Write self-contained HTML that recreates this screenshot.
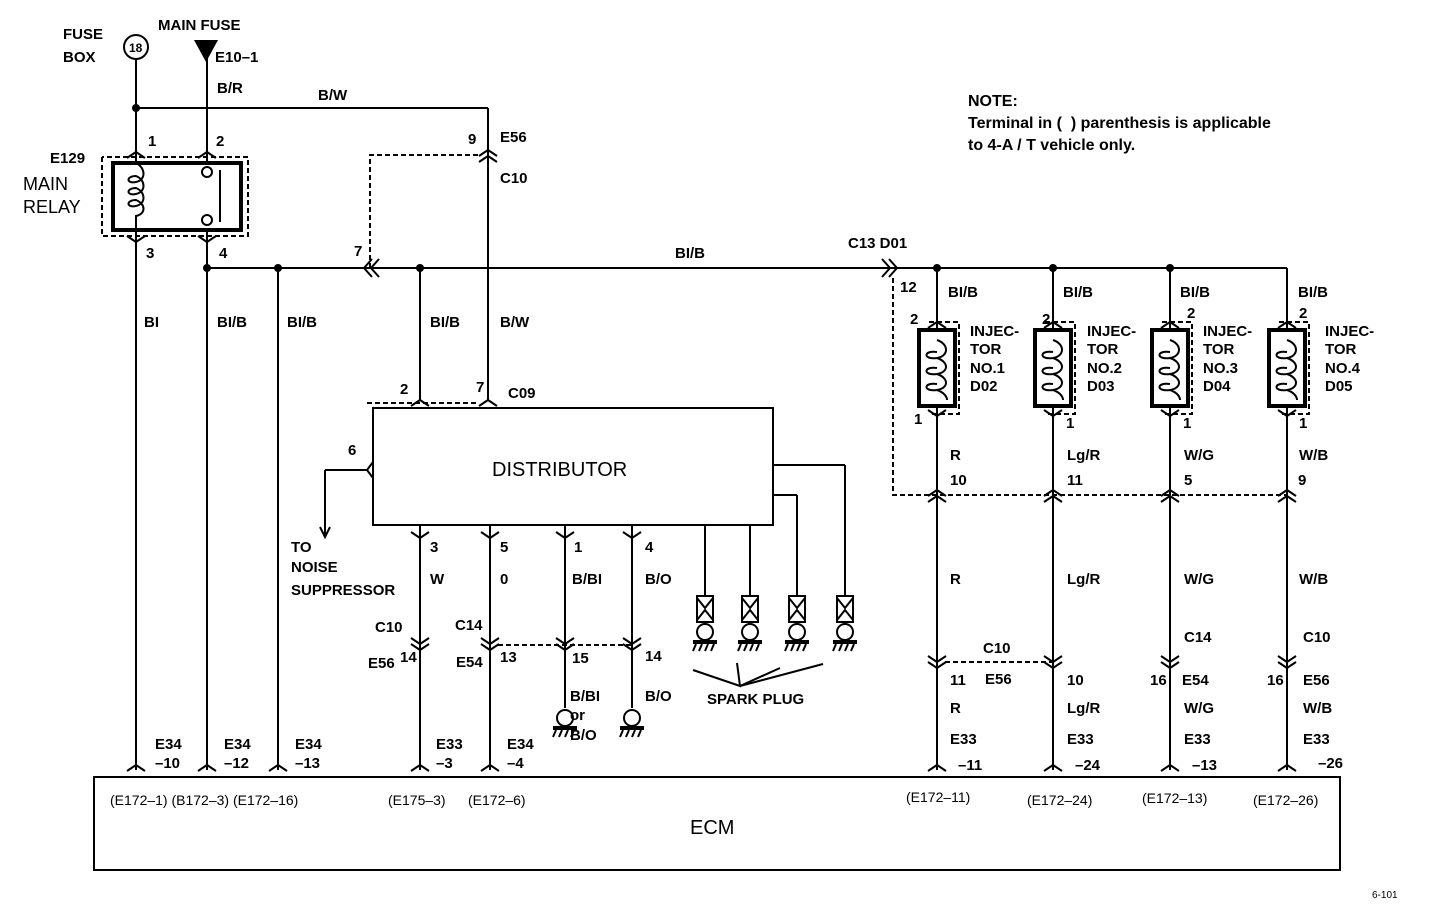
<!DOCTYPE html>
<html><head><meta charset="utf-8"><style>
html,body{margin:0;padding:0;background:#fff}
svg{display:block}
text{font-family:"Liberation Sans",sans-serif;fill:#000}
</style></head><body>
<svg width="1440" height="904" viewBox="0 0 1440 904" xmlns="http://www.w3.org/2000/svg" font-size="14" font-family="Liberation Sans, sans-serif">
<defs>
<g id="up"><polyline points="-9,6 0,0 9,6" fill="none" stroke="#000" stroke-width="2"/></g>
<g id="dn"><polyline points="-9,-6 0,0 9,-6" fill="none" stroke="#000" stroke-width="2"/></g>
<g id="dup"><polyline points="-9,6 0,0 9,6" fill="none" stroke="#000" stroke-width="2"/><polyline points="-9,12 0,6 9,12" fill="none" stroke="#000" stroke-width="2"/></g>
<g id="ddn"><polyline points="-9,-6 0,0 9,-6" fill="none" stroke="#000" stroke-width="2"/><polyline points="-9,-12 0,-6 9,-12" fill="none" stroke="#000" stroke-width="2"/></g>
<g id="gnd"><circle cx="0" cy="-10" r="8" fill="none" stroke="#000" stroke-width="2"/><line x1="-12" y1="0" x2="12" y2="0" stroke="#000" stroke-width="4"/><path d="M-9 2l-3 7M-3 2l-3 7M3 2l-3 7M9 2l-3 7" stroke="#000" stroke-width="2"/></g>
<g id="plug"><rect x="-8" y="0" width="16" height="26" fill="none" stroke="#000" stroke-width="2"/><polyline points="-8,2 0,12 8,2" fill="none" stroke="#000" stroke-width="2"/><polyline points="-8,24 0,14 8,24" fill="none" stroke="#000" stroke-width="2"/><use href="#gnd" y="46"/></g>
<g id="inj"><rect x="-18" y="0" width="36" height="76" fill="#fff" stroke="#000" stroke-width="4"/><path d="M0 10 C 12 14 12 26 0 28 C-14 30 -14 20 0 22 M0 28 C 12 32 12 42 0 44 C-14 46 -14 36 0 38 M0 44 C 12 48 12 58 0 60 C-14 62 -14 52 0 54 M0 60 C 6 62 10 66 10 70" fill="none" stroke="#000" stroke-width="2"/><polyline points="-8,-8 22,-8 22,84 -8,84" fill="none" stroke="#000" stroke-width="2" stroke-dasharray="5,3"/></g>
</defs>
<g stroke="#000" stroke-width="2" fill="none">
<circle cx="136" cy="47" r="12"/>
<line x1="136" y1="59" x2="136" y2="770"/>
<line x1="207" y1="55" x2="207" y2="770"/>
<line x1="136" y1="108" x2="488" y2="108"/>
<line x1="488" y1="108" x2="488" y2="400"/>
<rect x="113" y="163" width="128" height="67" stroke-width="4" fill="#fff"/>
<polyline points="102,157 102,236 248,236 248,157 102,157" stroke-dasharray="5,3"/>
<path d="M136 163 C 146 168 146 180 136 182 C 126 184 126 176 136 176 C 146 180 146 192 136 194 C 126 196 126 188 136 188 C 146 192 146 204 136 206 C 126 208 126 200 136 200 C 146 204 146 214 136 216 L136 230"/>
<circle cx="207" cy="172" r="5" fill="#fff"/><circle cx="207" cy="220" r="5" fill="#fff"/>
<line x1="220" y1="170" x2="220" y2="222"/>
<line x1="207" y1="268" x2="1287" y2="268"/>
<line x1="1287" y1="268" x2="1287" y2="770"/>
<line x1="278" y1="268" x2="278" y2="770"/>
<line x1="420" y1="268" x2="420" y2="400"/>
<polyline points="370,268 370,155 478,155" stroke-dasharray="5,3"/>
<rect x="373" y="408" width="400" height="117" stroke-width="2"/>
<polyline points="367,403 478,403 M500,403 520,403 M367,403 367,530 640,530" stroke-dasharray="5,3"/>
<line x1="367" y1="470" x2="325" y2="470"/><line x1="325" y1="470" x2="325" y2="535"/>
<polyline points="320,527 325,537 330,527"/>
<line x1="420" y1="525" x2="420" y2="770"/>
<line x1="490" y1="525" x2="490" y2="770"/>
<line x1="565" y1="525" x2="565" y2="708"/>
<line x1="632" y1="525" x2="632" y2="708"/>
<polyline points="498,645 632,645" stroke-dasharray="5,3"/>
<line x1="773" y1="465" x2="845" y2="465"/><line x1="845" y1="465" x2="845" y2="596"/>
<line x1="773" y1="495" x2="797" y2="495"/><line x1="797" y1="495" x2="797" y2="596"/>
<line x1="750" y1="525" x2="750" y2="596"/>
<line x1="705" y1="525" x2="705" y2="596"/>
<path d="M693 670 L740 686 L737 663 M740 686 L780 668 M740 686 L823 664"/>
<line x1="937" y1="268" x2="937" y2="770"/>
<line x1="1053" y1="268" x2="1053" y2="770"/>
<line x1="1170" y1="268" x2="1170" y2="770"/>
<polyline points="893,278 893,495 1287,495" stroke-dasharray="5,3"/>
<polyline points="945,662 1053,662" stroke-dasharray="5,3"/>
<rect x="94" y="777" width="1246" height="93"/>
</g>
<polygon points="194,40 218,40 206,62" fill="#000"/>
<g fill="#000"><circle cx="136" cy="108" r="4"/><circle cx="207" cy="268" r="4"/><circle cx="278" cy="268" r="4"/><circle cx="420" cy="268" r="4"/><circle cx="937" cy="268" r="4"/><circle cx="1053" cy="268" r="4"/><circle cx="1170" cy="268" r="4"/></g>
<use href="#up" x="136" y="152"/><use href="#up" x="207" y="152"/>
<use href="#dn" x="136" y="242"/><use href="#dn" x="207" y="242"/>
<use href="#dup" x="488" y="150"/>
<g stroke="#000" stroke-width="2" fill="none"><polyline points="372,259 364,268 372,277"/><polyline points="379,259 371,268 379,277"/>
<polyline points="882,259 890,268 882,277"/><polyline points="889,259 897,268 889,277"/>
<polyline points="373,462 367,470 373,478"/></g>
<use href="#up" x="420" y="400"/><use href="#up" x="488" y="400"/>
<use href="#dn" x="420" y="538"/><use href="#dn" x="490" y="538"/><use href="#dn" x="565" y="538"/><use href="#dn" x="632" y="538"/>
<use href="#ddn" x="420" y="650"/><use href="#ddn" x="490" y="650"/><use href="#ddn" x="565" y="650"/><use href="#ddn" x="632" y="650"/>
<use href="#gnd" x="565" y="728"/><use href="#gnd" x="632" y="728"/>
<use href="#plug" x="705" y="596"/><use href="#plug" x="750" y="596"/><use href="#plug" x="797" y="596"/><use href="#plug" x="845" y="596"/>
<use href="#inj" x="937" y="330"/><use href="#inj" x="1053" y="330"/><use href="#inj" x="1170" y="330"/><use href="#inj" x="1287" y="330"/>
<use href="#up" x="937" y="322"/><use href="#up" x="1053" y="322"/><use href="#up" x="1170" y="322"/><use href="#up" x="1287" y="322"/>
<use href="#dn" x="937" y="416"/><use href="#dn" x="1053" y="416"/><use href="#dn" x="1170" y="416"/><use href="#dn" x="1287" y="416"/>
<use href="#dup" x="937" y="490"/><use href="#dup" x="1053" y="490"/><use href="#dup" x="1170" y="490"/><use href="#dup" x="1287" y="490"/>
<use href="#ddn" x="937" y="668"/><use href="#ddn" x="1053" y="668"/><use href="#ddn" x="1170" y="668"/><use href="#ddn" x="1287" y="668"/>
<use href="#up" x="136" y="765"/><use href="#up" x="207" y="765"/><use href="#up" x="278" y="765"/><use href="#up" x="420" y="765"/><use href="#up" x="490" y="765"/><use href="#up" x="937" y="765"/><use href="#up" x="1053" y="765"/><use href="#up" x="1170" y="765"/><use href="#up" x="1287" y="765"/>
<g style="font-size:15px;font-weight:bold">
<text x="63" y="39">FUSE</text><text x="63" y="62">BOX</text>
<text x="129" y="52" style="font-size:12px">18</text>
<text x="158" y="30">MAIN FUSE</text><text x="215" y="62">E10–1</text>
<text x="217" y="93">B/R</text><text x="318" y="100">B/W</text>
<text x="148" y="146">1</text><text x="216" y="146">2</text>
<text x="50" y="163">E129</text><text x="23" y="190" style="font-size:18px;font-weight:normal">MAIN</text><text x="23" y="213" style="font-size:18px;font-weight:normal">RELAY</text>
<text x="146" y="258">3</text><text x="219" y="258">4</text>
<text x="468" y="144">9</text><text x="500" y="142">E56</text><text x="500" y="183">C10</text>
<text x="354" y="256">7</text>
<text x="144" y="327">BI</text><text x="217" y="327">BI/B</text><text x="287" y="327">BI/B</text><text x="430" y="327">BI/B</text><text x="500" y="327">B/W</text>
<text x="400" y="394">2</text><text x="476" y="392">7</text><text x="508" y="398">C09</text>
<text x="348" y="455">6</text>
<text x="492" y="476" style="font-size:20px;font-weight:normal">DISTRIBUTOR</text>
<text x="291" y="552">TO</text><text x="291" y="572">NOISE</text><text x="291" y="595">SUPPRESSOR</text>
<text x="430" y="552">3</text><text x="500" y="552">5</text><text x="574" y="552">1</text><text x="645" y="552">4</text>
<text x="430" y="584">W</text><text x="500" y="584">0</text><text x="572" y="584">B/BI</text><text x="645" y="584">B/O</text>
<text x="375" y="632">C10</text><text x="455" y="630">C14</text>
<text x="368" y="668">E56</text><text x="400" y="662">14</text><text x="456" y="667">E54</text><text x="500" y="662">13</text><text x="572" y="663">15</text><text x="645" y="661">14</text>
<text x="570" y="701">B/BI</text><text x="570" y="720">or</text><text x="570" y="740">B/O</text><text x="645" y="701">B/O</text>
<text x="707" y="704">SPARK PLUG</text>
<text x="675" y="258">BI/B</text><text x="848" y="248">C13 D01</text>
<text x="968" y="106" style="font-size:16px">NOTE:</text>
<text x="968" y="128" style="font-size:16px">Terminal in (&#160;&#160;) parenthesis is applicable</text>
<text x="968" y="150" style="font-size:16px">to 4-A / T vehicle only.</text>
<text x="900" y="292">12</text>
<text x="948" y="297">BI/B</text><text x="1063" y="297">BI/B</text><text x="1180" y="297">BI/B</text><text x="1298" y="297">BI/B</text>
<text x="910" y="324">2</text><text x="1042" y="324">2</text><text x="1187" y="318">2</text><text x="1299" y="318">2</text>
<text x="970" y="336">INJEC-</text><text x="970" y="354">TOR</text><text x="970" y="373">NO.1</text><text x="970" y="391">D02</text>
<text x="1087" y="336">INJEC-</text><text x="1087" y="354">TOR</text><text x="1087" y="373">NO.2</text><text x="1087" y="391">D03</text>
<text x="1203" y="336">INJEC-</text><text x="1203" y="354">TOR</text><text x="1203" y="373">NO.3</text><text x="1203" y="391">D04</text>
<text x="1325" y="336">INJEC-</text><text x="1325" y="354">TOR</text><text x="1325" y="373">NO.4</text><text x="1325" y="391">D05</text>
<text x="914" y="424">1</text><text x="1066" y="428">1</text><text x="1183" y="428">1</text><text x="1299" y="428">1</text>
<text x="950" y="460">R</text><text x="1067" y="460">Lg/R</text><text x="1184" y="460">W/G</text><text x="1299" y="460">W/B</text>
<text x="950" y="485">10</text><text x="1067" y="485">11</text><text x="1184" y="485">5</text><text x="1298" y="485">9</text>
<text x="950" y="584">R</text><text x="1067" y="584">Lg/R</text><text x="1184" y="584">W/G</text><text x="1299" y="584">W/B</text>
<text x="983" y="653">C10</text><text x="1184" y="642">C14</text><text x="1303" y="642">C10</text>
<text x="950" y="685">11</text><text x="985" y="684">E56</text><text x="1067" y="685">10</text><text x="1150" y="685">16</text><text x="1182" y="685">E54</text><text x="1267" y="685">16</text><text x="1303" y="685">E56</text>
<text x="950" y="713">R</text><text x="1067" y="713">Lg/R</text><text x="1184" y="713">W/G</text><text x="1303" y="713">W/B</text>
<text x="155" y="749">E34</text><text x="155" y="768">–10</text><text x="224" y="749">E34</text><text x="224" y="768">–12</text><text x="295" y="749">E34</text><text x="295" y="768">–13</text>
<text x="436" y="749">E33</text><text x="436" y="768">–3</text><text x="507" y="749">E34</text><text x="507" y="768">–4</text>
<text x="950" y="744">E33</text><text x="958" y="770">–11</text><text x="1067" y="744">E33</text><text x="1075" y="770">–24</text><text x="1184" y="744">E33</text><text x="1192" y="770">–13</text><text x="1303" y="744">E33</text><text x="1318" y="768">–26</text>
</g>
<g style="font-size:14px;font-weight:normal">
<text x="110" y="805">(E172–1) (B172–3) (E172–16)</text><text x="388" y="805">(E175–3)</text><text x="468" y="805">(E172–6)</text>
<text x="906" y="802">(E172–11)</text><text x="1027" y="805">(E172–24)</text><text x="1142" y="803">(E172–13)</text><text x="1253" y="805">(E172–26)</text>
<text x="690" y="834" style="font-size:20px">ECM</text>
<text x="1372" y="898" style="font-size:10px">6-101</text>
</g>
</svg>
</body></html>
